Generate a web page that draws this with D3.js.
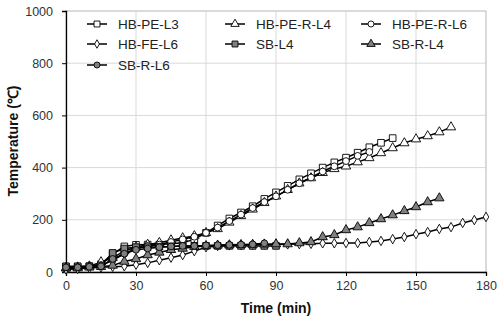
<!DOCTYPE html>
<html><head><meta charset="utf-8">
<script src="https://cdn.jsdelivr.net/npm/d3@7"></script>
<style>body{margin:0;background:#fff}svg{display:block}text{font-family:"Liberation Sans",Arial,sans-serif}</style>
</head><body><svg id="c" width="500" height="323"></svg>
<script>
const xTicks = [0,30,60,90,120,150,180];
const yTicks = [0,200,400,600,800,1000];
const seriesNames = ["HB-PE-L3","HB-PE-R-L4","HB-PE-R-L6","HB-FE-L6","SB-L4","SB-R-L4","SB-R-L6"];
const seriesMarkers = ["square","triangle","circle","diamond","square","triangle","circle"];
const seriesFills = ["#fff","#fff","#fff","#fff","#808080","#808080","#808080"];
const step = 5;
const hbPeL3 = [20,20,22,30,70,98,104,105,105,108,112,125,150,178,205,228,252,280,305,330,355,378,400,420,438,457,478,495,513];
const hbPeRL4 = [15,18,22,38,55,80,95,105,112,122,130,138,150,165,190,215,240,265,290,315,340,360,380,395,405,421,437,456,475,494,509,521,536,555];
const hbPeRL6 = [10,15,20,25,45,70,90,100,105,115,125,135,150,170,195,220,245,268,290,315,340,362,385,405,425,445,460];
const hbFeL6 = [10,12,15,18,20,22,28,35,45,55,65,80,95,100,102,103,104,105,105,106,107,108,110,110,111,111,115,119,126,134,145,153,165,172,188,199,211];
const sbL4 = [22,22,22,25,73,90,95,95,97,98,100,100,100,100,100,100,100,100,100];
const sbRL4 = [15,15,18,20,25,40,50,65,75,85,90,97,100,102,103,104,105,106,107,107,111,115,134,142,161,172,188,203,218,234,249,268,283];
const sbRL6 = [18,18,20,22,50,70,85,90,95,98,100,100,102,103,104,105,106,110];
const seriesValues = [hbPeL3,hbPeRL4,hbPeRL6,hbFeL6,sbL4,sbRL4,sbRL6];

const svg = d3.select("#c");
const m = {l:66, r:486, t:11, b:272};
const x = d3.scaleLinear().domain([0,180]).range([m.l,m.r]);
const y = d3.scaleLinear().domain([0,1000]).range([m.b,m.t]);

// grid
svg.append("g").selectAll("line").data(yTicks.slice(1)).join("line")
  .attr("x1",m.l).attr("x2",m.r).attr("y1",d=>y(d)).attr("y2",d=>y(d))
  .attr("stroke","#d9d9d9").attr("stroke-width",1);
svg.append("g").selectAll("line").data(xTicks.slice(1)).join("line")
  .attr("y1",m.t).attr("y2",m.b).attr("x1",d=>x(d)).attr("x2",d=>x(d))
  .attr("stroke","#d9d9d9").attr("stroke-width",1);
svg.append("rect").attr("x",m.l).attr("y",m.t).attr("width",m.r-m.l).attr("height",m.b-m.t)
  .attr("fill","none").attr("stroke","#c8c8c8").attr("stroke-width",1);

// axes
const xa = svg.append("g").attr("transform",`translate(0,${m.b})`)
  .call(d3.axisBottom(x).tickValues(xTicks).tickSize(4).tickPadding(5).tickFormat(d3.format("d")));
const ya = svg.append("g").attr("transform",`translate(${m.l},0)`)
  .call(d3.axisLeft(y).tickValues(yTicks).tickSize(4).tickPadding(9).tickFormat(d3.format("d")));
[xa,ya].forEach(a=>{
  a.select(".domain").attr("stroke","#000").attr("stroke-width",1.3);
  a.selectAll(".tick line").attr("stroke","#000");
  a.selectAll(".tick text").attr("font-size",12.5).attr("fill","#333").attr("font-family","Liberation Sans, Arial, sans-serif");
});

const sym = {square:d3.symbolSquare, triangle:d3.symbolTriangle, circle:d3.symbolCircle, diamond:d3.symbolDiamond};
const symSize = {square:44, triangle:38, circle:36, diamond:26};
const line = d3.line().x(d=>x(d[0])).y(d=>y(d[1]));

seriesNames.forEach((name,i)=>{
  const pts = seriesValues[i].map((v,j)=>[j*step,v]);
  const g = svg.append("g");
  g.append("path").attr("d",line(pts)).attr("fill","none").attr("stroke","#000").attr("stroke-width",1.5);
  const mk = seriesMarkers[i];
  g.selectAll("path.m").data(pts).join("path").attr("class","m")
    .attr("d",d3.symbol(sym[mk],symSize[mk])())
    .attr("transform",d=>`translate(${x(d[0])},${y(d[1])})`)
    .attr("fill",seriesFills[i]).attr("stroke","#000").attr("stroke-width",0.9);
});

// legend
const lcols = [87,225,361], lrows = [24,44,65];
seriesNames.forEach((name,i)=>{
  const cx = lcols[i%3], cy = lrows[Math.floor(i/3)];
  const g = svg.append("g").attr("transform",`translate(${cx},${cy})`);
  g.append("line").attr("x1",0).attr("x2",20).attr("stroke","#000").attr("stroke-width",1.5);
  const mk = seriesMarkers[i];
  g.append("path").attr("d",d3.symbol(sym[mk],symSize[mk]*0.8)()).attr("transform","translate(10,0)")
    .attr("fill",seriesFills[i]).attr("stroke","#000").attr("stroke-width",0.9);
  g.append("text").attr("x",31).attr("y",5).attr("font-size",13.5).attr("fill","#222").text(name);
});

// titles
svg.append("text").attr("x",276).attr("y",313).attr("text-anchor","middle")
  .attr("font-size",14).attr("font-weight","bold").attr("fill","#111").text("Time (min)");
svg.append("text").attr("transform","translate(18,141) rotate(-90)").attr("text-anchor","middle")
  .attr("font-size",14).attr("font-weight","bold").attr("fill","#111").text("Temperature (℃)");
</script></body></html>
